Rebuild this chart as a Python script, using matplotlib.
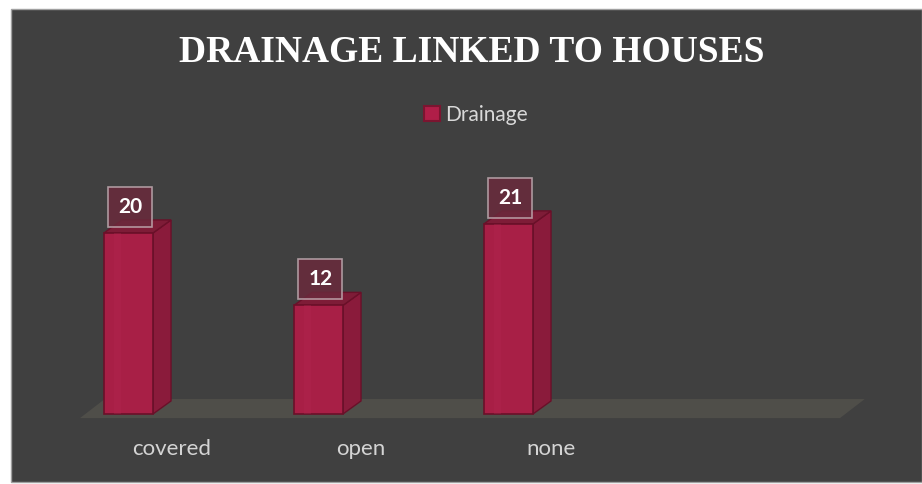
import matplotlib.pyplot as plt
from matplotlib.patches import Polygon, Rectangle, Patch

categories = ['covered', 'open', 'none']
values = [20, 12, 21]
n_slots = 4  # Excel left an empty 4th slot on the floor
series_name = 'Drainage'
title = 'DRAINAGE LINKED TO HOUSES'

BG = '#404040'
FRONT = '#a81f46'
SIDE = '#8a1b3b'
TOP = '#7e1c37'
EDGE = '#6a1029'
FLOOR = '#4f4e49'

fig = plt.figure(figsize=(9.22, 4.84), dpi=100)
fig.patch.set_facecolor('white')
fig.patches.append(Rectangle((11 / 922, 2 / 484), 1 - 11 / 922, 1 - 11 / 484,
                             transform=fig.transFigure, facecolor=BG,
                             edgecolor='#a0a0a0', linewidth=1, zorder=-10))

ax = fig.add_axes([0, 0, 1, 1])
ax.set_xlim(-80 / 190, (922 - 80) / 190)
ax.set_ylim(-70 / 9.05, 414 / 9.05)
ax.axis('off')
ax.patch.set_alpha(0)

# 3d depth offsets (in data units)
dx, dy = 0.095, 1.44
fdx, fdy = 0.13, 2.1

# floor
ax.add_patch(Polygon([(0, -0.45), (n_slots, -0.45), (n_slots + fdx, -0.45 + fdy),
                      (fdx, -0.45 + fdy)], closed=True, facecolor=FLOOR,
                     edgecolor='none', zorder=1))

w = 0.258
for i, (cat, v) in enumerate(zip(categories, values)):
    x0 = i + 0.126
    x1 = x0 + w
    # side face
    ax.add_patch(Polygon([(x1, 0), (x1 + dx, dy), (x1 + dx, v + dy), (x1, v)],
                         closed=True, facecolor=SIDE, edgecolor=EDGE, lw=1, zorder=3))
    # top face
    ax.add_patch(Polygon([(x0, v), (x1, v), (x1 + dx, v + dy), (x0 + dx, v + dy)],
                         closed=True, facecolor=TOP, edgecolor=EDGE, lw=1, zorder=3))
    # front face
    ax.add_patch(Rectangle((x0, 0), w, v, facecolor=FRONT, edgecolor=EDGE,
                           lw=1.2, zorder=4))
    ax.add_patch(Rectangle((x0 + w * 0.2, 0), w * 0.15, v, facecolor='#b22650',
                           edgecolor='none', alpha=0.3, zorder=4))
    # value label
    ax.text(x0 + w / 2 + 0.01, v + 2.9, str(v), ha='center', va='center',
            fontsize=15, fontweight='bold', family='Lato', color='white', zorder=6,
            bbox=dict(boxstyle='square,pad=0.48', facecolor='#6a2a3c',
                      edgecolor='#bfaab0', linewidth=1.2, alpha=0.85))
    # category label
    ax.text(i + 0.48, -3.9, cat, ha='center', va='center', fontsize=16,
            family='Lato', color='#d4d4d4', zorder=5)

fig.text(472 / 922, 1 - 52 / 484, title, ha='center', va='center', fontsize=27,
         fontweight='bold', family='Liberation Serif', color='white')

ax.legend(handles=[Patch(facecolor='#b01e48', edgecolor='#7b1530', lw=1.5)],
          labels=[series_name], loc='center', bbox_to_anchor=(476 / 922, 1 - 115 / 484),
          bbox_transform=fig.transFigure, frameon=False, handlelength=0.75,
          handleheight=0.75, handletextpad=0.25,
          prop={'family': 'Lato', 'size': 15}, labelcolor='#d9d9d9')

fig.savefig('out.png', dpi=100, facecolor='white')
